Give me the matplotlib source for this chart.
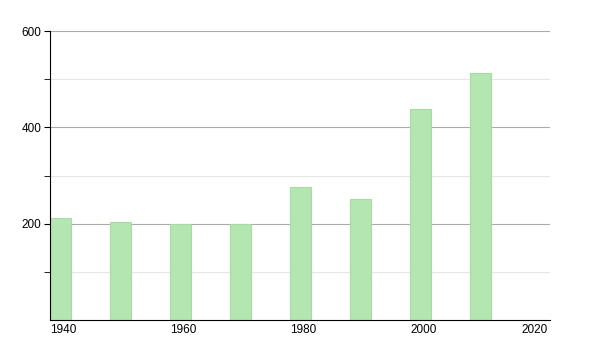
import matplotlib
matplotlib.use("Agg")
import matplotlib.pyplot as plt

# population by census year
years = [1940, 1950, 1960, 1970, 1980, 1990, 2000, 2010]
values = [211, 204, 199, 199, 276, 251, 439, 512]
xticks = [1940, 1960, 1980, 2000, 2020]
yticks = [200, 400, 600]
yminor = [100, 300, 500]

plt.rcParams['font.family'] = ['Liberation Sans', 'DejaVu Sans']

fig = plt.figure(figsize=(6, 3.5), dpi=100)
ax = fig.add_axes([50/600, 1-320/350, 500/600, 289/350])

ax.bar(years, values, width=3.5, align='edge', color='#b3e6b0',
       edgecolor='#a6dca2', linewidth=0.8, zorder=3)

ax.set_xlim(1940, 2023.33)
ax.set_ylim(0, 600)
ax.set_yticks(yticks)
ax.set_yticks(yminor, minor=True)
ax.set_xticks(xticks)
# last label is drawn by hand so it stays inside the axis
ax.set_xticklabels([str(x) for x in xticks[:-1]] + [''])
for lab in ax.get_xticklabels():
    lab.set_ha('left')
ax.annotate(str(xticks[-1]), xy=(1, 0), xycoords='axes fraction',
            xytext=(-1.5, -3), textcoords='offset points',
            ha='right', va='top', fontsize=8.5)
ax.grid(axis='y', which='major', color='#aaaaaa', linewidth=0.8, zorder=0)
ax.grid(axis='y', which='minor', color='#e6e6e6', linewidth=0.8, zorder=0)
ax.tick_params(axis='x', length=0, labelsize=8.5, pad=3)
ax.tick_params(axis='y', which='both', length=4, labelsize=8.5, color='black', pad=2)
for s in ['top', 'right']:
    ax.spines[s].set_visible(False)
ax.spines['left'].set_color('black')
ax.spines['bottom'].set_color('black')
ax.spines['left'].set_zorder(4)
ax.spines['bottom'].set_zorder(4)

fig.savefig("out.png", dpi=100)
